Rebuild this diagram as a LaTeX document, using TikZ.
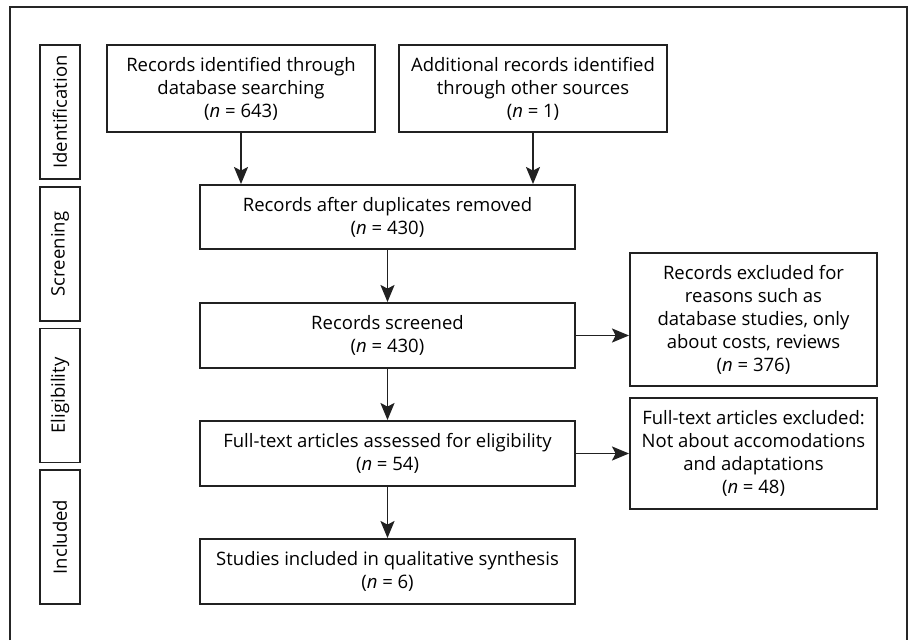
\documentclass[tikz,border=0pt]{standalone}
\usepackage{fontspec}
\setmainfont{Open Sans}
\usetikzlibrary{positioning,arrows.meta}

\begin{document}
\begin{tikzpicture}[
    x=1pt, y=1pt,
    font=\fontsize{18.5}{23}\selectfont,
    box/.style={
        draw=black!87,
        line width=1.9pt,
        align=center,
        inner xsep=4pt,
        inner ysep=3pt
    },
    phase/.style={
        draw=black!87,
        line width=1.9pt,
        rotate=90,
        minimum height=40,
        minimum width=134,
        inner sep=0pt
    },
    frame/.style={draw=black!85, line width=1.3pt},
    arrow/.style={-{Stealth[length=17pt,width=14pt,inset=3.5pt]}, line width=1.8pt, draw=black!87}
]
\useasboundingbox (0,0) rectangle (912,640);

% outer frame, open at the bottom
\draw[frame] (10,0) -- (10,633) -- (907,633) -- (907,0);

% phases
\node[phase] (ident) at (60,528) {Identification};
\node[phase] (screen) at (60,386) {Screening};
\node[phase] (elig) at (60,244.5) {Eligibility};
\node[phase] (incl) at (60,103) {Included};

% main flow
\node[box, minimum width=268, minimum height=87] (database) at (241,551.5) {Records identified through\\database searching\\(\textit{n} = 643)};
\node[box, minimum width=268, minimum height=87] (other) at (533,551.5) {Additional records identified\\through other sources\\(\textit{n} = 1)};
\node[box, minimum width=375, minimum height=64] (dupl) at (387.5,423) {Records after duplicates removed\\(\textit{n} = 430)};
\node[box, minimum width=375, minimum height=65] (screened) at (387.5,304.5) {Records screened\\(\textit{n} = 430)};
\node[box, minimum width=375, minimum height=65] (fulltext) at (387.5,186.5) {Full-text articles assessed for eligibility\\(\textit{n} = 54)};
\node[box, minimum width=375, minimum height=65] (included) at (387.5,68.5) {Studies included in qualitative synthesis\\(\textit{n} = 6)};

% exclusions
\node[box, minimum width=247, minimum height=133] (excl1) at (753.5,320.5) {Records excluded for\\reasons such as\\database studies, only\\about costs, reviews\\(\textit{n} = 376)};
\node[box, minimum width=247, minimum height=111] (excl2) at (753.5,186.5) {Full-text articles excluded:\\Not about accomodations\\and adaptations\\(\textit{n} = 48)};

\draw[arrow] (database.south) -- (database.south |- dupl.north);
\draw[arrow] (other.south) -- (other.south |- dupl.north);
\draw[arrow] (dupl) -- (screened);
\draw[arrow] (screened.east) -- (screened.east -| excl1.west);
\draw[arrow] (screened) -- (fulltext);
\draw[arrow] (fulltext.east) -- (excl2.west);
\draw[arrow] (fulltext) -- (included);

\end{tikzpicture}
\end{document}
